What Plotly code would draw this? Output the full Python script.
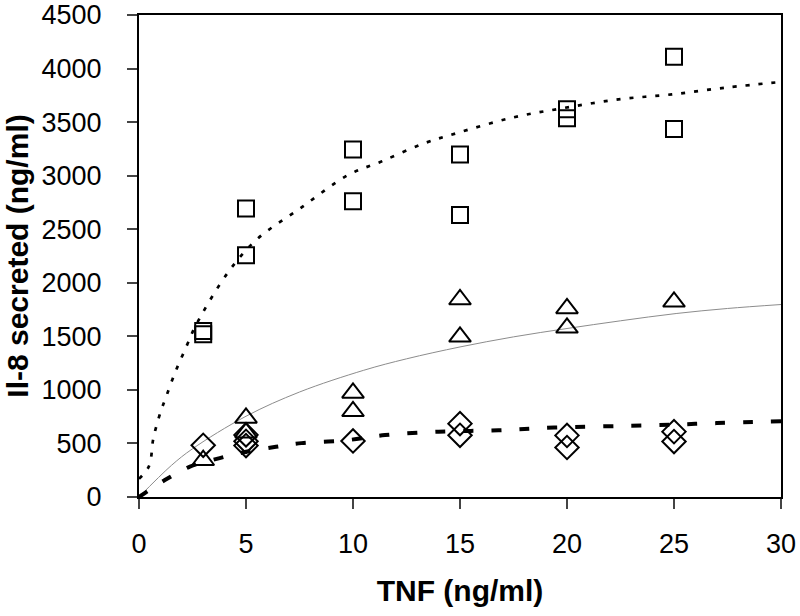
import plotly.graph_objects as go

# Measured points
sq_x = [3, 3, 5, 5, 10, 10, 15, 15, 20, 20, 25, 25]
sq_y = [1550, 1520, 2694, 2258, 3245, 2762, 3198, 2632, 3619, 3535, 4111, 3435]

tri_x = [3, 5, 5, 10, 10, 15, 15, 20, 20, 25]
tri_y = [343, 738, 600, 972, 800, 1844, 1495, 1760, 1579, 1822]

dia_x = [3, 5, 5, 5, 10, 15, 15, 20, 20, 25, 25]
dia_y = [483, 580, 520, 480, 523, 685, 576, 575, 462, 610, 518]

# Fitted curves
fit_sq_x = [0, 0.47, 0.67, 1.01, 1.21, 1.68, 2.22, 2.66, 4.18, 5.5, 7.63, 9.76, 11.3, 13.3, 14.9, 17.4, 19.8, 22.4, 24.9, 27.5, 30]
fit_sq_y = [170, 290, 547, 795, 904, 1158, 1407, 1604, 2102, 2404, 2709, 3005, 3130, 3300, 3400, 3540, 3630, 3712, 3759, 3824, 3875]

fit_tri_x = [0, 1.52, 2.5, 5, 7.5, 10.5, 12.5, 15, 17.5, 20, 22.5, 25.1, 27.5, 30]
fit_tri_y = [0, 296, 450, 754, 980, 1183, 1290, 1401, 1495, 1573, 1645, 1713, 1760, 1797]

fit_dia_x = [0, 1.21, 2.38, 3.77, 5, 6.4, 7.6, 9.65, 11.5, 14, 16.8, 19.4, 24.1, 27, 30]
fit_dia_y = [0, 158, 283, 363, 422, 469, 503, 529, 578, 610, 623, 648, 670, 690, 707]

x_ticks = [0, 5, 10, 15, 20, 25, 30]
y_ticks = [0, 500, 1000, 1500, 2000, 2500, 3000, 3500, 4000, 4500]

fig = go.Figure()

fig.add_trace(go.Scatter(x=fit_sq_x, y=fit_sq_y, mode="lines", line_shape="spline",
                         line=dict(color="black", width=2.7, dash="4px,9px"), showlegend=False))
fig.add_trace(go.Scatter(x=fit_tri_x, y=fit_tri_y, mode="lines", line_shape="spline",
                         line=dict(color="#8c8c8c", width=1), showlegend=False))
fig.add_trace(go.Scatter(x=fit_dia_x, y=fit_dia_y, mode="lines", line_shape="spline",
                         line=dict(color="black", width=4, dash="10px,18px"), showlegend=False))

fig.add_trace(go.Scatter(x=sq_x, y=sq_y, mode="markers", showlegend=False,
                         marker=dict(symbol="square-open", size=16, color="black", line=dict(width=2))))
fig.add_trace(go.Scatter(x=tri_x, y=tri_y, mode="markers", showlegend=False,
                         marker=dict(symbol="triangle-up-open", size=19, color="black", line=dict(width=2))))
fig.add_trace(go.Scatter(x=dia_x, y=dia_y, mode="markers", showlegend=False,
                         marker=dict(symbol="diamond-open", size=18, color="black", line=dict(width=2))))

font = "Liberation Sans, Arial, sans-serif"
fig.update_layout(
    width=800, height=616,
    margin=dict(l=139, r=19, t=15, b=119),
    paper_bgcolor="white", plot_bgcolor="white",
    font=dict(family=font, size=27, color="black"),
)
fig.update_xaxes(range=[0, 30], tickvals=x_ticks, ticks="outside", ticklen=10, tickwidth=2,
                 showline=True, linecolor="black", linewidth=2, mirror=True, showgrid=False,
                 zeroline=False, automargin=False, ticklabelstandoff=12,
                 title=dict(text="<b>TNF (ng/ml)</b>", font=dict(size=30), standoff=22),
                 tickfont=dict(size=27))
fig.update_yaxes(range=[0, 4500], tickvals=y_ticks, ticks="outside", ticklen=10, tickwidth=2,
                 showline=True, linecolor="black", linewidth=2, mirror=True, showgrid=False,
                 zeroline=False, automargin=False, ticklabelstandoff=20,
                 title=dict(text="<b>Il-8 secreted (ng/ml)</b>", font=dict(size=30), standoff=4),
                 tickfont=dict(size=27))

fig.write_html("out.html", config={"displayModeBar": False},
               post_script="document.body.style.margin='0px';document.body.style.overflow='hidden';")
